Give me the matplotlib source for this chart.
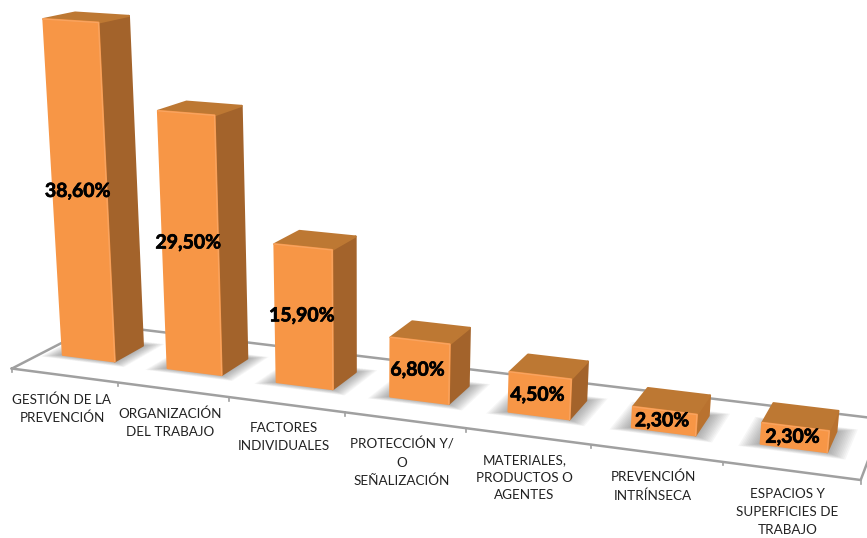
#!/usr/bin/env python3
import numpy as np
import matplotlib
matplotlib.use("Agg")
import matplotlib.pyplot as plt
import matplotlib.patheffects as pe
from matplotlib.patches import Polygon

plt.rcParams["font.family"] = ["Lato", "DejaVu Sans"]

categories = ["GESTIÓN DE LA\nPREVENCIÓN", "ORGANIZACIÓN\nDEL TRABAJO", "FACTORES\nINDIVIDUALES",
              "PROTECCIÓN Y/\nO\nSEÑALIZACIÓN", "MATERIALES,\nPRODUCTOS O\nAGENTES",
              "PREVENCIÓN\nINTRÍNSECA", "ESPACIOS Y\nSUPERFICIES DE\nTRABAJO"]
values = [38.6, 29.5, 15.9, 6.8, 4.5, 2.3, 2.3]
value_labels = ["38,60%", "29,50%", "15,90%", "6,80%", "4,50%", "2,30%", "2,30%"]

BAR_W = 0.5
SLOT0 = -0.19
D_FRONT, D_BACK = -1.0, 1.87

# camera of the 3d view: (category, depth, value) -> pixel
CAM = np.array([[101.554, 31.9594, -0.574399, 62.866],
                [6.22249, -5.75143, -8.72941, 354.809],
                [-0.0193783, 0.0285911, -0.00158775, 1.0]])


def proj(t, d, h=0.0):
    q = CAM @ np.array([t, d, h, 1.0])
    return q[0]/q[2], q[1]/q[2]


fig = plt.figure(figsize=(8.67, 5.38), dpi=100)
ax = fig.add_axes([0, 0, 1, 1])
ax.set_xlim(0, 867); ax.set_ylim(538, 0); ax.axis("off")

# floor
n = len(values)
tl, tr = SLOT0, n+SLOT0
GRID = "#a0a0a0"
floor = [proj(tl,D_FRONT),proj(tr,D_FRONT),proj(tr,D_BACK),proj(tl,D_BACK),proj(tl,D_FRONT)]
ax.plot(*zip(*floor), color=GRID, lw=1.8, zorder=1)
for i in range(n+1):
    x, y = proj(i+SLOT0, D_FRONT)
    ax.plot([x, x], [y, y+3.5], color=GRID, lw=1.2, zorder=1)

heavy = [pe.withStroke(linewidth=0.5, foreground="black")]
for i, (v, cat, lab) in enumerate(zip(values, categories, value_labels)):
    l, r = i, i+BAR_W
    # soft shadow on the floor
    for e in np.linspace(0.15, 0.01, 12):
        pts = [proj(l-e,-e*1.5),proj(r+e,-e*1.5),proj(r+e,1+e*1.5),proj(l-e,1+e*1.5)]
        ax.add_patch(Polygon(pts, fc="#404040", ec="none", alpha=0.045, zorder=2))
    side_col = "#b9722f" if v < 4 else "#a3632b"
    front = [proj(l,0),proj(r,0),proj(r,0,v),proj(l,0,v)]
    side = [proj(r,0),proj(r,1),proj(r,1,v),proj(r,0,v)]
    top = [proj(l,0,v),proj(r,0,v),proj(r,1,v),proj(l,1,v)]
    ax.add_patch(Polygon(side, fc=side_col, ec=side_col, lw=1.5, joinstyle="round", zorder=3))
    ax.add_patch(Polygon(top, fc="#bd7833", ec="#bd7833", lw=1.5, joinstyle="round", zorder=3))
    ax.add_patch(Polygon(front, fc="#f79646", ec="#f79646", lw=1.5, joinstyle="round", zorder=4))
    # lighter bevel along the upper and right edges of the front
    ax.plot(*zip(proj(l,0,v), proj(r,0,v), proj(r,0)), color="#fbb27a", lw=0.9, alpha=0.5,
            solid_joinstyle="round", zorder=4)
    x, y = proj(l+BAR_W/2, 0, v*0.51)
    ax.text(x-2, y, lab, ha="center", va="center", fontsize=14, fontweight="bold", color="black",
            path_effects=heavy, zorder=5)
    x, y = proj(i+SLOT0+0.475, D_FRONT)
    ax.text(x, y+18, cat, ha="center", va="top", fontsize=9.7, color="#222222", linespacing=1.58, zorder=5)

fig.savefig("out.png", dpi=100)
